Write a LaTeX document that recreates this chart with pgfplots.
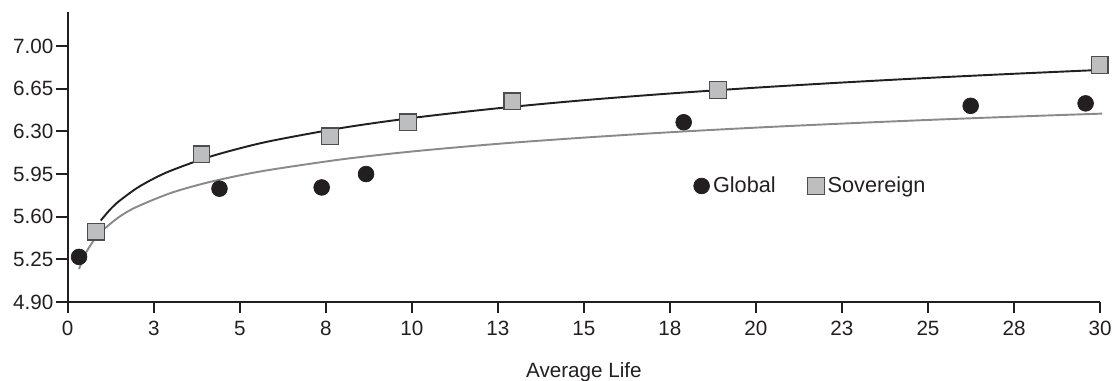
\documentclass[border=0pt]{standalone}
\usepackage{fontspec}
\setmainfont{Liberation Sans}
\usepackage{pgfplots}
\pgfplotsset{compat=1.18}
\definecolor{ink}{HTML}{231F20}
\definecolor{fitgray}{HTML}{8A8A8C}
\definecolor{sqfill}{HTML}{BCBEC0}
\definecolor{sqedge}{HTML}{4D4D4F}
\begin{document}
\begin{tikzpicture}
\begin{axis}[
  width=589.9pt, height=165.7pt, scale only axis,
  xmin=0, xmax=30, ymin=4.90, ymax=7.28,
  axis x line=bottom, axis y line=left,
  axis line style={-, ink, line width=1.1pt},
  tick align=outside, major tick length=6.5pt,
  tick style={ink, line width=1.1pt},
  xtick={0,2.5,5,7.5,10,12.5,15,17.5,20,22.5,25,27.5,30},
  xticklabels={0,3,5,8,10,13,15,18,20,23,25,28,30},
  ytick={4.90,5.25,5.60,5.95,6.30,6.65,7.00},
  yticklabels={4.90,5.25,5.60,5.95,6.30,6.65,7.00},
  ticklabel style={font=\fontsize{11.8}{14}\selectfont, text=ink},
  yticklabel style={inner sep=1.5pt},
  xticklabel style={inner sep=0pt, yshift=-4.5pt},
  xlabel={Average Life},
  xlabel style={at={(axis description cs:0.5,0)}, anchor=base, yshift=-42.9pt, font=\fontsize{11.8}{14}\selectfont, text=ink},
  clip=false,
  legend style={at={(axis description cs:0.601,0.40)}, anchor=west, draw=none, fill=none,
    font=\fontsize{12.4}{14}\selectfont, text=ink, legend columns=2,
    /tikz/every even column/.append style={column sep=16.3pt}},
  legend cell align=left,
  legend image code/.code={\draw[mark repeat=2,mark phase=2,#1] plot coordinates {(0pt,0pt) (4.7pt,0pt) (10.6pt,0pt)};},
]
% fitted curves
\addplot[fitgray, line width=1.1pt, smooth, forget plot] coordinates {
 (0.33,5.171) (0.5,5.288) (0.75,5.403) (1,5.484) (1.5,5.599) (2,5.680) (3,5.795)
 (4,5.876) (5,5.939) (6,5.990) (8,6.072) (10,6.135) (12.5,6.198) (15,6.249)
 (17.5,6.293) (20,6.331) (22.5,6.364) (25,6.394) (27.5,6.421) (30.06,6.446)};
\addplot[ink, line width=1.1pt, smooth, forget plot] coordinates {
 (0.96,5.569) (1.25,5.664) (1.5,5.729) (2,5.833) (2.5,5.913) (3,5.978) (4,6.081)
 (5,6.161) (6,6.227) (8,6.330) (10,6.410) (12.5,6.490) (15,6.556) (17.5,6.611)
 (20,6.659) (22.5,6.701) (25,6.739) (27.5,6.773) (29.8,6.802)};
% data
\addplot[only marks, mark=*, mark size=4.5pt, mark options={fill=ink, draw=ink, line width=0.4pt}] coordinates {
 (0.33,5.27) (4.41,5.83) (7.38,5.84) (8.67,5.95) (17.9,6.375) (26.24,6.51) (29.58,6.53)};
\addlegendentry{Global}
\addplot[only marks, mark=square*, mark size=4.7pt, mark options={fill=sqfill, draw=sqedge, line width=0.7pt}] coordinates {
 (0.82,5.476) (3.885,6.113) (7.62,6.26) (9.89,6.375) (12.92,6.548) (18.9,6.64) (29.99,6.845)};
\addlegendentry{Sovereign}
\coordinate (bbl) at (rel axis cs:-0.0656,-0.2724);
\coordinate (btr) at (rel axis cs:1.0145,1.0414);
\end{axis}
\pgfresetboundingbox
\path[use as bounding box] (bbl) rectangle (btr);
\end{tikzpicture}
\end{document}
